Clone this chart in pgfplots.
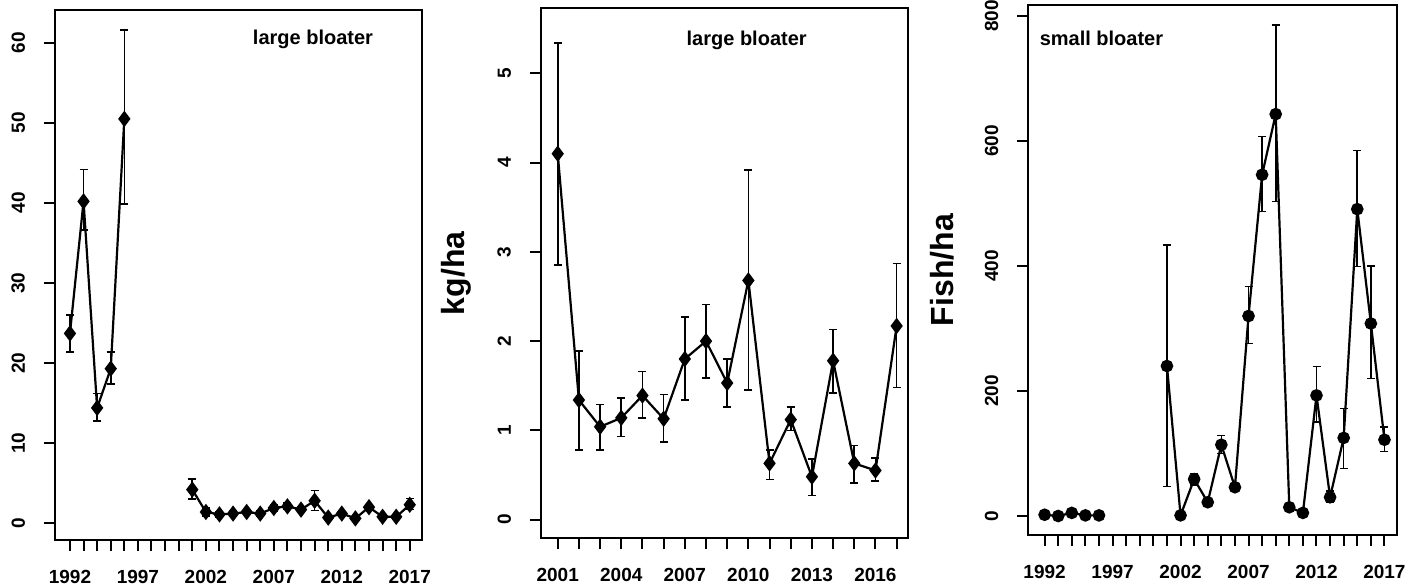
\documentclass[border=0pt]{standalone}
\usepackage{pgfplots}
\pgfplotsset{compat=1.18}
\usepackage{fontspec}
\setmainfont{Liberation Sans}

% Bloater survey series: year, estimate, lower and upper error limits
\usepackage{pgfplotstable}
\pgfplotstableread{
yr v lo hi
1992 23.7 21.4 26.0
1993 40.2 36.6 44.2
1994 14.4 12.8 16.2
1995 19.3 17.4 21.4
1996 50.5 39.9 61.6
}\largeA
\pgfplotstableread{
yr v lo hi
2001 4.2 3.0 5.5
2002 1.4 0.9 1.9
2003 1.1 0.8 1.4
2004 1.2 0.9 1.5
2005 1.4 1.1 1.7
2006 1.2 0.9 1.5
2007 1.9 1.5 2.3
2008 2.1 1.7 2.5
2009 1.7 1.4 2.0
2010 2.8 1.6 4.1
2011 0.7 0.5 0.9
2012 1.2 1.0 1.4
2013 0.6 0.4 0.8
2014 2.0 1.6 2.3
2015 0.8 0.6 1.0
2016 0.8 0.6 1.0
2017 2.3 1.7 3.1
}\largeB
\pgfplotstableread{
yr v lo hi
2001 4.10 2.85 5.34
2002 1.34 0.78 1.89
2003 1.04 0.78 1.29
2004 1.14 0.93 1.36
2005 1.39 1.14 1.66
2006 1.13 0.87 1.40
2007 1.80 1.34 2.27
2008 2.00 1.59 2.41
2009 1.53 1.26 1.80
2010 2.68 1.45 3.92
2011 0.63 0.45 0.78
2012 1.12 1.00 1.26
2013 0.48 0.27 0.68
2014 1.78 1.42 2.13
2015 0.63 0.41 0.83
2016 0.55 0.43 0.69
2017 2.17 1.48 2.87
}\largeKg
\pgfplotstableread{
yr v
1992 2
1993 0
1994 5
1995 1
1996 1
}\smallA
\pgfplotstableread{
yr v lo hi
2001 240 47 434
2002 1 0 3
2003 59 50 68
2004 22 17 27
2005 114 100 129
2006 46 40 52
2007 320 276 367
2008 546 487 607
2009 643 503 786
2010 14 10 18
2011 5 2 8
2012 193 150 239
2013 30 22 40
2014 125 76 172
2015 491 399 585
2016 308 220 400
2017 122 103 142
}\smallB

\tikzset{ttl/.style={font=\fontsize{10}{12}\selectfont\bfseries}}

\begin{document}
\begin{tikzpicture}
\useasboundingbox (0pt,0pt) rectangle (710.5pt,293pt);
\pgfplotsset{
  panel/.style={
    scale only axis, anchor=south west,
    axis line style={line width=1pt},
    every tick/.style={black, line width=1pt},
    tick align=outside, major tick length=5.5pt,
    xtick pos=bottom, ytick pos=left,
    tick label style={font=\fontsize{9.5}{11}\selectfont\bfseries},
    /pgf/number format/assume math mode=true,
    /pgf/number format/1000 sep={},
    yticklabel style={rotate=90, anchor=south},
    yticklabel shift=6pt,
    xticklabel shift=6pt,
    ylabel style={font=\fontsize{16}{18}\selectfont\bfseries, anchor=base},
  },
  ser/.style={black, line width=1.1pt, mark options={solid, fill=black}},
  eb/.style={error bars/.cd, y dir=both, y explicit,
    error bar style={line width=0.8pt},
    error mark options={rotate=90, mark size=2pt, line width=0.8pt}},
}
\newcommand{\yearlabels}{1992,,,,,1997,,,,,2002,,,,,2007,,,,,2012,,,,,2017}

% Panel 1: large bloater, 1992-2017
\begin{axis}[panel, at={(27.5pt,23pt)}, width=183.5pt, height=265pt,
  xmin=1990.9, xmax=2017.9, ymin=-2.1, ymax=64.1,
  xtick={1992,...,2017}, xticklabels/.expand once=\yearlabels,
  ytick={0,10,...,60}]
\addplot[ser, mark=diamond*, mark size=3.2pt, eb] table[x=yr, y=v,
  y error plus expr=\thisrow{hi}-\thisrow{v},
  y error minus expr=\thisrow{v}-\thisrow{lo}] {\largeA};
\addplot[ser, mark=diamond*, mark size=3.2pt, eb] table[x=yr, y=v,
  y error plus expr=\thisrow{hi}-\thisrow{v},
  y error minus expr=\thisrow{v}-\thisrow{lo}] {\largeB};
\node[ttl] at (axis description cs:0.703,0.945) {large bloater};
\end{axis}

% Panel 2: large bloater biomass, 2001-2017
\begin{axis}[panel, at={(270.5pt,23.85pt)}, width=183.65pt, height=265pt,
  xmin=2000.21, xmax=2017.55, ymin=-0.21, ymax=5.73,
  xtick={2001,...,2017},
  xticklabels={2001,,,2004,,,2007,,,2010,,,2013,,,2016,},
  ytick={0,1,...,5},
  ylabel={kg/ha},
  ylabel style={at={(axis description cs:-0.207,0.5)}}]
\addplot[ser, mark=diamond*, mark size=3.2pt, eb] table[x=yr, y=v,
  y error plus expr=\thisrow{hi}-\thisrow{v},
  y error minus expr=\thisrow{v}-\thisrow{lo}] {\largeKg};
\node[ttl] at (axis description cs:0.560,0.940) {large bloater};
\end{axis}

% Panel 3: small bloater density, 1992-2017
\begin{axis}[panel, at={(514.15pt,25.5pt)}, width=184.2pt, height=265pt,
  xmin=1990.8, xmax=2017.9, ymin=-30.4, ymax=817.6,
  xtick={1992,...,2017}, xticklabels/.expand once=\yearlabels,
  ytick={0,200,...,800},
  ylabel={Fish/ha},
  ylabel style={at={(axis description cs:-0.2036,0.5)}}]
\addplot[ser, mark=*, mark size=2.6pt] table[x=yr, y=v] {\smallA};
\addplot[ser, mark=*, mark size=2.6pt, eb] table[x=yr, y=v,
  y error plus expr=\thisrow{hi}-\thisrow{v},
  y error minus expr=\thisrow{v}-\thisrow{lo}] {\smallB};
\node[ttl, anchor=west] at (axis description cs:0.012,0.938) {small bloater};
\end{axis}
\end{tikzpicture}
\end{document}
